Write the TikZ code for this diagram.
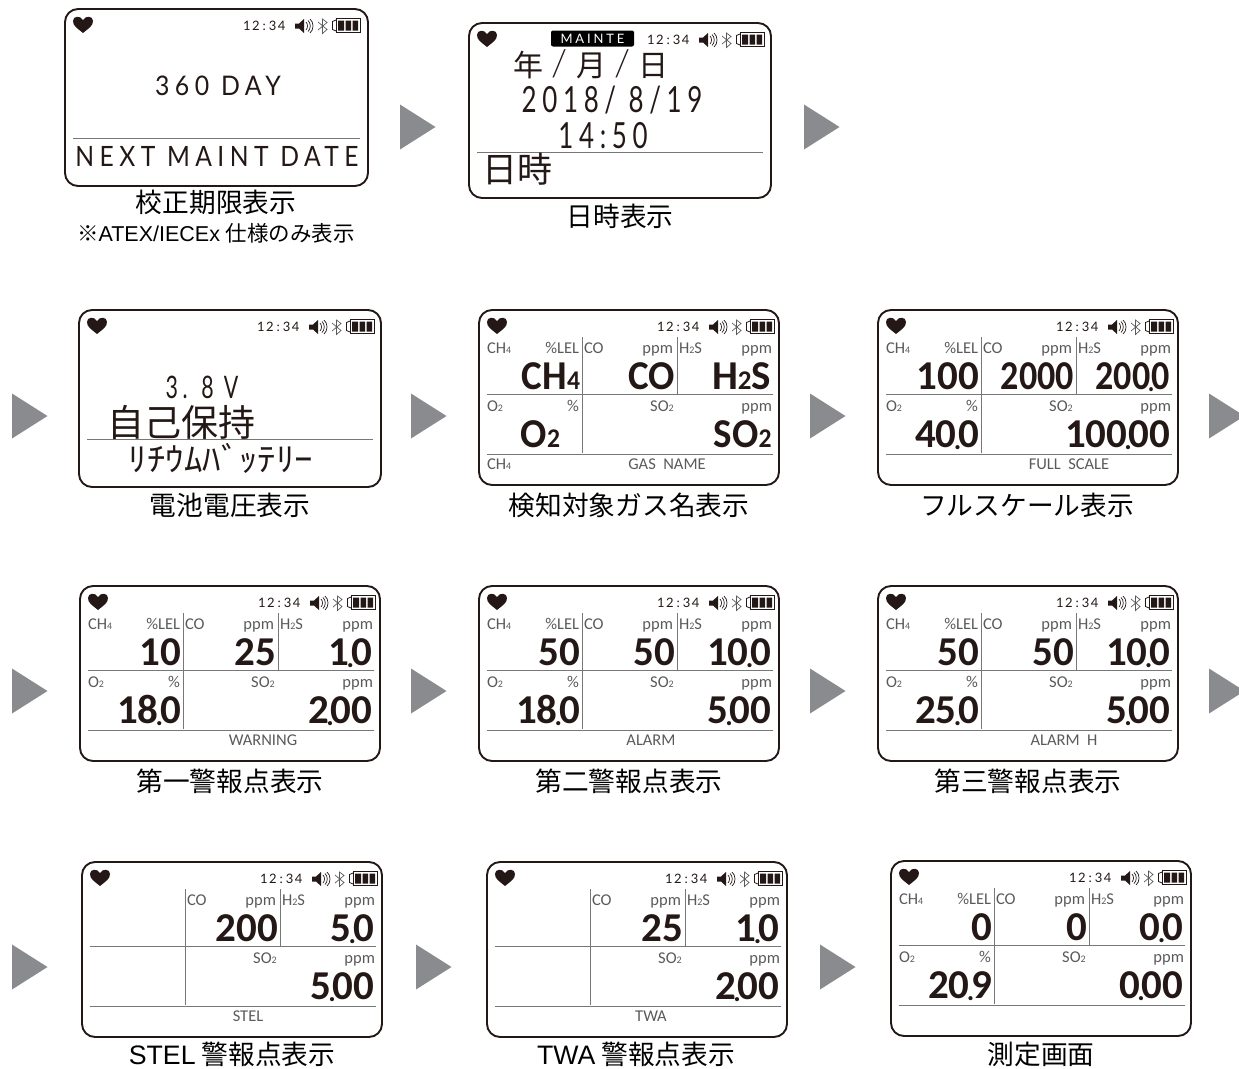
\documentclass[tikz,border=0pt]{standalone}
\usepackage{fontspec}
\usepackage{graphicx}
\setmainfont{Liberation Sans}
\newfontfamily\cjk{Noto Sans CJK JP}
\newfontfamily\lcd[LetterSpace=12]{Lato}
\newfontfamily\lcdw[LetterSpace=22]{Lato}
\newfontfamily\lcdl{Lato Light}
\newfontfamily\smf{Carlito}
\newfontfamily\bigf{Carlito Bold}
\definecolor{ink}{HTML}{231815}
\definecolor{lbl}{HTML}{5A5A5A}
\definecolor{rule}{HTML}{777777}
\definecolor{arr}{HTML}{898B8E}
\newcommand\fsz[1]{\fontsize{#1}{#1}\selectfont}
\newcommand\lo[1]{{\fsz{10}#1}}
\newcommand\bg[1]{{\fsz{27}#1}}
\newcommand\dt{\kern-3pt\lower2pt\hbox{\fsz{28}.}\kern-3pt}
\newcommand\nar[1]{\scalebox{0.88}[1]{#1}}
\newcommand\narl[1]{\scalebox{0.95}[1]{#1}}
\newcommand\slsh{\kern8pt{\lcdl\fsz{37}/}\kern8pt}
\newcommand\scrw{300}
\newcommand\scrh{175}
\tikzset{
  x=1pt,y=-1pt,
  scr/.style={draw=ink,line width=1.9pt,rounded corners=13pt},
  rl/.style={draw=rule,line width=0.9pt},
  txt/.style={inner sep=0pt,outer sep=0pt},
  small/.style={txt,text=lbl,font=\smf\fsz{16.5}},
  big/.style={txt,text=ink,font=\bigf\fsz{41},anchor=base east},
  captxt/.style={txt,text=black,font=\cjk\fsz{26.7}},
  tri/.style={fill=arr,draw=none},
}
\newcommand\screenbase{%
  \draw[scr] (0,0) rectangle (\scrw,\scrh);
  \fill[ink] (18,24) .. controls (12,19) and (8,17) .. (8,12) .. controls (8,7) and (15,6) .. (18,11) .. controls (21,6) and (28,7) .. (28,12) .. controls (28,17) and (24,19) .. (18,24) -- cycle;
  \node[txt,text=ink,font=\lcd\fsz{13},anchor=base west] at (178,21) {12\kern3pt:\kern3pt34};
  \fill[ink] (230,14.5) -- (234,14.5) -- (239,10) -- (239,24) -- (234,19.5) -- (230,19.5) -- cycle;
  \draw[ink,line width=0.7pt] (241,13) .. controls (243,15) and (243,19) .. (241,21);
  \draw[ink,line width=0.7pt] (243,11.5) .. controls (246,14) and (246,20) .. (243,22.5);
  \draw[ink,line width=0.7pt] (245,10) .. controls (249,13) and (249,21) .. (245,24);
  \draw[lbl,line width=0.7pt] (253,13) -- (262,20.5) -- (257.5,24.5) -- (257.5,10) -- (262,13.5) -- (253,21);
  \draw[ink,line width=0.8pt] (271,9.5) rectangle (295,23.5);
  \draw[ink,line width=0.8pt] (271,11) -- (267.5,12.5) -- (267.5,20.5) -- (271,22);
  \fill[ink] (273,11.5) rectangle (279,21.5) (280.5,11.5) rectangle (286,21.5) (287.5,11.5) rectangle (293,21.5);
}
\newcommand\gridlines{%
  \draw[rl] (8,84.5) -- (294,84.5);
  \draw[rl] (8,144) -- (294,144);
  \draw[rl] (103,27) -- (103,143);
  \draw[rl] (198,27) -- (198,85);
  \node[small,anchor=base west] at (105,43) {CO};
  \node[small,anchor=base east] at (194,43) {ppm};
  \node[small,anchor=base west] at (200,43) {H\lo{2}S};
  \node[small,anchor=base east] at (293,43) {ppm};
  \node[small,anchor=base] at (183,101.5) {SO\lo{2}};
  \node[small,anchor=base east] at (293,101.5) {ppm};
}
\newcommand\leftlabels{%
  \node[small,anchor=base west] at (8,43) {CH\lo{4}};
  \node[small,anchor=base east] at (100,43) {\%LEL};
}
\newcommand\otwolabels{%
  \node[small,anchor=base west] at (8,101.5) {O\lo{2}};
  \node[small,anchor=base east] at (100,101.5) {\%};
}
\newcommand\vals[5]{%
  \node[big] at (101,79) {#1};
  \node[big] at (196,79) {#2};
  \node[big] at (292,79) {#3};
  \node[big] at (101,137) {#4};
  \node[big] at (292.5,137) {#5};
}
\newcommand\foot[2]{\node[small,anchor=base] at (#1,159.5) {#2};}
\begin{document}
\begin{tikzpicture}
\useasboundingbox (0,0) rectangle (1239,1068);
% arrows
\foreach \ax/\ay in {400/127,804/127,12/416,411/416,810/416,1209/416,12/691,411/691,810/691,1209/691,12/967,416/967,820/967}{
  \fill[tri] (\ax,\ay-22.5) -- (\ax+35.5,\ay) -- (\ax,\ay+22.5) -- cycle;
}
% screen 1
\begin{scope}[shift={(65,9)}]
  \renewcommand\scrw{303}\renewcommand\scrh{177}
  \screenbase
  \draw[rl] (8,129) -- (295,129);
  \node[txt,text=ink,font=\lcdw\fsz{27},xscale=0.92] at (153,77) {360 DAY};
  \node[txt,text=ink,font=\lcdw\fsz{28},xscale=0.88] at (152,147) {NEXT MAINT DATE};
\end{scope}
% screen 2
\begin{scope}[shift={(469,23)}]
  \renewcommand\scrw{302}\renewcommand\scrh{175}
  \screenbase
  \draw[rl] (8,129) -- (294,129);
  \node[fill=black,rounded corners=2pt,minimum width=83pt,minimum height=16pt,inner sep=0pt,text=white,font=\lcdw\fsz{13}] (mainte) at (123.5,15.5) {MAINTE};
  \node[txt,text=ink,font=\cjk\fsz{30}] at (122,41.5) {年\slsh 月\slsh 日};
  \node[txt,text=ink,font=\lcdw\fsz{36},xscale=0.72] at (143,77.5) {2018/ 8/19};
  \node[txt,text=ink,font=\lcdw\fsz{36},xscale=0.72] at (134,112.5) {14:50};
  \node[txt,text=ink,font=\cjk\fsz{35}] at (48,146.5) {日時};
\end{scope}
% screen 3
\begin{scope}[shift={(79,310)}]
  \renewcommand\scrw{302}\renewcommand\scrh{177}
  \screenbase
  \draw[rl] (8,129) -- (294,129);
  \node[txt,text=ink,font=\lcdw\fsz{31},xscale=0.69] at (123,77.5) {3. 8 V};
  \node[txt,text=ink,font=\cjk\fsz{37}] at (102,112.5) {自己保持};
  \node[txt,text=ink,font=\cjk\fsz{33},xscale=1.12] at (142,148) {ﾘﾁｳﾑﾊﾞｯﾃﾘｰ};
\end{scope}
% gas names
\begin{scope}[shift={(479,310)}]
  \screenbase\gridlines\leftlabels\otwolabels
  \node[small,anchor=base west] at (8,159.5) {CH\lo{4}};
  \foot{188}{GAS\ \ NAME}
  \vals{\narl{CH\bg{4}}}{\narl{CO}}{H\bg{2}S}{\narl{O\bg{2}}\kern20pt}{\narl{SO\bg{2}}}
\end{scope}
% full scale
\begin{scope}[shift={(878,310)}]
  \screenbase\gridlines\leftlabels\otwolabels
  \foot{191}{FULL\ \ SCALE}
  \vals{100}{\nar{2000}}{\nar{200\dt0}}{40\dt0}{100\dt00}
\end{scope}
% row 3
\begin{scope}[shift={(80,586)}]
  \screenbase\gridlines\leftlabels\otwolabels
  \foot{183}{WARNING}
  \vals{10}{25}{1\dt0}{18\dt0}{2\dt00}
\end{scope}
\begin{scope}[shift={(479,586)}]
  \screenbase\gridlines\leftlabels\otwolabels
  \foot{172}{ALARM}
  \vals{50}{50}{10\dt0}{18\dt0}{5\dt00}
\end{scope}
\begin{scope}[shift={(878,586)}]
  \screenbase\gridlines\leftlabels\otwolabels
  \foot{186}{ALARM\ \ H}
  \vals{50}{50}{10\dt0}{25\dt0}{5\dt00}
\end{scope}
% row 4
\begin{scope}[shift={(82,862)}]
  \screenbase\gridlines
  \foot{166}{STEL}
  \vals{}{200}{5\dt0}{}{5\dt00}
\end{scope}
\begin{scope}[shift={(487,862)}]
  \screenbase\gridlines
  \foot{164}{TWA}
  \vals{}{25}{1\dt0}{}{2\dt00}
\end{scope}
\begin{scope}[shift={(891,861)}]
  \screenbase\gridlines\leftlabels\otwolabels
  \vals{0}{0}{0\dt0}{20\dt9}{0\dt00}
\end{scope}
% captions
\node[captxt] (c1) at (216,202) {校正期限表示};
\node[txt,text=black,font=\fsz{21.5}] (c1b) at (216,233) {{\cjk ※}ATEX/IECEx {\cjk 仕様のみ表示}};
\node[captxt] (c2) at (620,216) {日時表示};
\node[captxt] (c3) at (230,505) {電池電圧表示};
\node[captxt] (c4) at (629,505) {検知対象ガス名表示};
\node[captxt] (c5) at (1027,505) {フルスケール表示};
\node[captxt] (c6) at (230,781) {第一警報点表示};
\node[captxt] (c7) at (629,781) {第二警報点表示};
\node[captxt] (c8) at (1028,781) {第三警報点表示};
\node[captxt] (c9) at (232,1054) {{\rmfamily STEL} 警報点表示};
\node[captxt] (c10) at (636,1054) {{\rmfamily TWA} 警報点表示};
\node[captxt] (c11) at (1041,1054) {測定画面};
\end{tikzpicture}
\end{document}
